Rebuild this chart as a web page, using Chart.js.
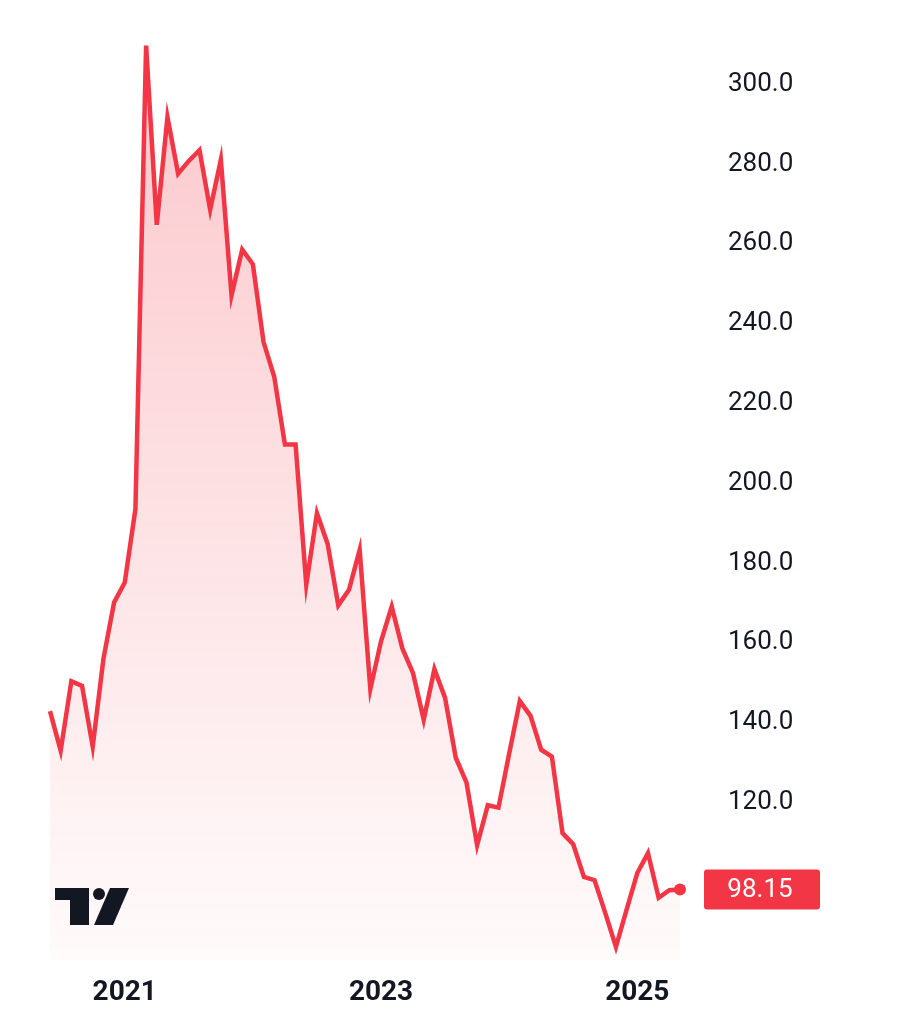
<!DOCTYPE html>
<html>
<head>
<meta charset="utf-8">
<script src="https://cdn.jsdelivr.net/npm/chart.js@4.4.0/dist/chart.umd.min.js"></script>
<style>
  html, body { margin: 0; padding: 0; background: #fff; }
  #wrap { width: 898px; height: 1024px; }
</style>
</head>
<body>
<div id="wrap"><canvas id="grafico"></canvas></div>
<script>
// mensal, jun/2020 .. mai/2025
const meses = [];
for (let i = 0; i < 60; i++) {
  const d = new Date(2020, 5 + i, 1);
  meses.push(d.getFullYear() + "-" + String(d.getMonth() + 1).padStart(2, "0"));
}
const precos = [
  142.9, 133.0, 150.4, 149.2, 134.0, 155.9, 170.1, 175.1, 193.5, 309.7,
  264.8, 291.8, 277.6, 280.8, 283.5, 268.6, 281.1, 247.1, 258.6, 254.9,
  235.4, 226.7, 209.7, 209.7, 174.6, 192.5, 184.8, 169.4, 173.3, 183.3,
  148.4, 160.4, 169.1, 158.6, 152.4, 140.7, 153.4, 146.2, 131.2, 125.0,
  109.3, 119.3, 118.7, 132.2, 145.4, 141.7, 133.2, 131.5, 112.3, 109.5,
  101.3, 100.5, 92.3, 83.8, 93.1, 102.3, 107.3, 96.1, 98.0, 98.15
];
const ultimoPreco = "98.15";
const anosVisiveis = ["2021", "2023", "2025"];
const ticksY = [120, 140, 160, 180, 200, 220, 240, 260, 280, 300];

const vermelho = "#f23645";

const etiquetaPreco = {
  id: "etiquetaPreco",
  afterDraw(chart) {
    const { ctx } = chart;
    const y = chart.scales.y.getPixelForValue(precos[precos.length - 1]);
    ctx.save();
    ctx.fillStyle = vermelho;
    ctx.beginPath();
    ctx.roundRect(704, y - 20, 116, 40, 3);
    ctx.fill();
    ctx.fillStyle = "#fff";
    ctx.font = "26px Roboto";
    ctx.textAlign = "center";
    ctx.textBaseline = "middle";
    ctx.fillText(ultimoPreco, 760, y + 1);
    // logo
    ctx.fillStyle = "#131722";
    ctx.fillRect(55, 888, 34, 12);
    ctx.fillRect(70, 888, 19, 37);
    ctx.beginPath();
    ctx.arc(99, 894, 6, 0, Math.PI * 2);
    ctx.fill();
    ctx.beginPath();
    ctx.moveTo(110, 888);
    ctx.lineTo(129, 888);
    ctx.lineTo(113, 925);
    ctx.lineTo(94, 925);
    ctx.closePath();
    ctx.fill();
    ctx.restore();
  }
};

const ctx = document.getElementById("grafico").getContext("2d");
const grad = ctx.createLinearGradient(0, 40, 0, 970);
grad.addColorStop(0, "rgba(242,54,69,0.28)");
grad.addColorStop(1, "rgba(242,54,69,0.02)");

new Chart(ctx, {
  type: "line",
  data: {
    labels: meses,
    datasets: [{
      data: precos,
      borderColor: vermelho,
      borderWidth: 4.5,
      backgroundColor: grad,
      fill: "start",
      tension: 0,
      clip: false,
      pointRadius: precos.map((_, i) => i === precos.length - 1 ? 6 : 0),
      pointBackgroundColor: vermelho,
      pointBorderWidth: 0
    }]
  },
  options: {
    responsive: true,
    maintainAspectRatio: false,
    animation: false,
    layout: { padding: { left: 50, top: 0, right: 0, bottom: 6 } },
    plugins: { legend: { display: false }, tooltip: { enabled: false } },
    scales: {
      x: {
        offset: false,
        grid: { display: false },
        border: { display: false },
        ticks: {
          autoSkip: false,
          maxRotation: 0,
          color: "#131722",
          font: { family: "Roboto", size: 28, weight: "bold" },
          padding: 8,
          callback: function (v, i) {
            const m = meses[i];
            return m.endsWith("-01") && anosVisiveis.includes(m.slice(0, 4)) ? m.slice(0, 4) : "";
          }
        }
      },
      y: {
        position: "right",
        min: 80.4,
        max: 307.2,
        afterBuildTicks: s => {
          s.ticks = ticksY.map(v => ({ value: v }));
        },
        afterFit: s => { s.width = 218; },
        grid: { display: false },
        border: { display: false },
        ticks: {
          color: "#131722",
          font: { family: "Roboto", size: 26 },
          padding: 40,
          callback: v => v.toFixed(1)
        }
      }
    }
  },
  plugins: [etiquetaPreco]
});
</script>
</body>
</html>
